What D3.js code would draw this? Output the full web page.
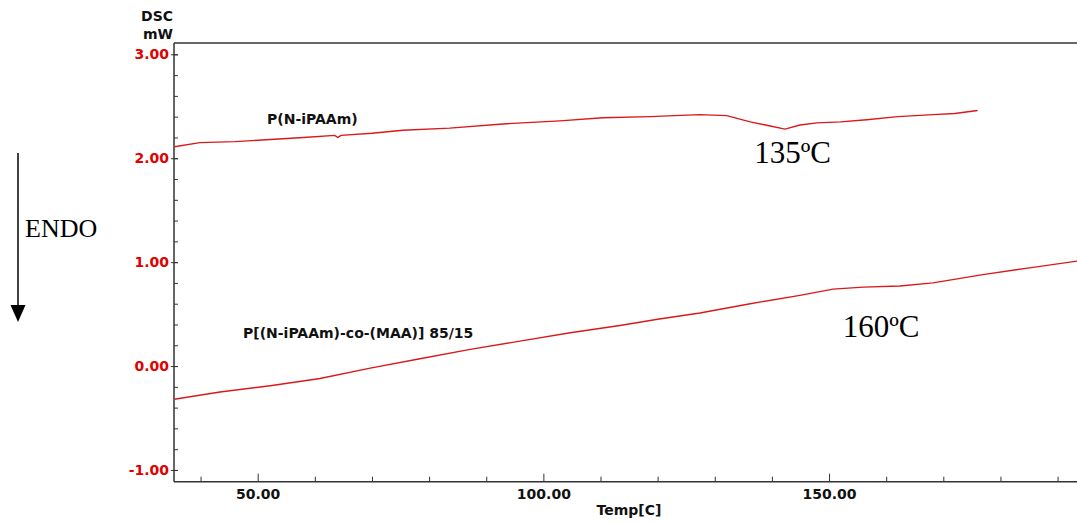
<!DOCTYPE html>
<html>
<head>
<meta charset="utf-8">
<script src="https://cdn.jsdelivr.net/npm/d3@7/dist/d3.min.js"></script>
<style>
  html, body { margin: 0; padding: 0; background: #fff; overflow: hidden; }
  svg { display: block; }
</style>
</head>
<body>
<svg id="chart" width="1077" height="523"></svg>
<script>
// ---- data ----
const yTickValues = [-1, 0, 1, 2, 3];
const yTickLabels = ["-1.00", "0.00", "1.00", "2.00", "3.00"];
const xTickValues = [50, 100, 150];
const xTickLabels = ["50.00", "100.00", "150.00"];

const seriesNames = ["P(N-iPAAm)", "P[(N-iPAAm)-co-(MAA)] 85/15"];

const tempA = [35.4, 39.9, 46, 52.2, 58, 63.5, 64.0, 64.6, 70, 75.4, 83.6, 92.9, 102.9, 110.4, 118.7, 127.4, 132.1, 136.2, 139.7, 142.3, 144.9, 147.9, 152, 156.6, 162, 168.2, 172, 176.0];
const dscA  = [2.11, 2.15, 2.16, 2.18, 2.20, 2.22, 2.20, 2.22, 2.24, 2.27, 2.29, 2.33, 2.36, 2.39, 2.40, 2.42, 2.41, 2.35, 2.31, 2.28, 2.32, 2.34, 2.35, 2.37, 2.40, 2.42, 2.43, 2.46];

const tempB = [35.4, 43.4, 52.2, 60.9, 69.7, 78.4, 87.2, 95.9, 104.7, 113.4, 120, 127.4, 136.2, 144.9, 150.7, 156, 162.4, 168.2, 176.9, 185.7, 193.4];
const dscB  = [-0.32, -0.25, -0.19, -0.12, -0.02, 0.07, 0.16, 0.24, 0.32, 0.39, 0.45, 0.51, 0.60, 0.68, 0.74, 0.76, 0.77, 0.80, 0.88, 0.95, 1.01];

const annotations = [
  { text: "135ºC", t: 136.9, v: 1.95 },
  { text: "160ºC", t: 152.4, v: 0.28 }
];

// ---- drawing ----
const svg = d3.select("#chart");
const redLine = "#d91a1a";
const redText = "#e00000";
const axisColor = "#333";

const x = d3.scaleLinear().domain([35.35, 193.4]).range([174, 1077]);
const y = d3.scaleLinear().domain([-1.113, 3.109]).range([481.7, 43]);

// frame
svg.append("line").attr("x1", 174).attr("x2", 1077).attr("y1", 43).attr("y2", 43)
  .attr("stroke", axisColor).attr("stroke-width", 1.5);

// y axis
const yMinor = d3.range(-1, 3.01, 0.2).map(v => +v.toFixed(2));
svg.append("g").attr("transform", "translate(174,0)")
  .call(d3.axisRight(y).tickValues(yMinor).tickSize(4).tickFormat(""))
  .call(g => g.select(".domain").remove())
  .call(g => g.selectAll("line").attr("stroke", axisColor));
const yAxis = svg.append("g").attr("transform", "translate(174,0)")
  .call(d3.axisLeft(y).tickValues(yTickValues).tickSize(3)
        .tickFormat((d, i) => yTickLabels[i]).tickPadding(2));
yAxis.select(".domain").remove();
yAxis.selectAll("line").attr("x2", -3).attr("x1", 4).attr("stroke", axisColor);
yAxis.selectAll("text").attr("fill", redText)
  .style("font-family", "DejaVu Sans").style("font-weight", "bold").style("font-size", "14px");
svg.append("line").attr("x1", 174).attr("x2", 174).attr("y1", 43).attr("y2", 481.7)
  .attr("stroke", axisColor).attr("stroke-width", 1.5);

// x axis
const xMinor = d3.range(40, 191, 10);
svg.append("g").attr("transform", "translate(0,481.7)")
  .call(d3.axisTop(x).tickValues(xMinor.filter(v => v % 50 !== 0)).tickSize(5).tickFormat(""))
  .call(g => g.select(".domain").remove())
  .call(g => g.selectAll("line").attr("stroke", axisColor));
const xAxis = svg.append("g").attr("transform", "translate(0,481.7)")
  .call(d3.axisBottom(x).tickValues(xTickValues).tickSize(0)
        .tickFormat((d, i) => xTickLabels[i]).tickPadding(7));
xAxis.select(".domain").remove();
xAxis.selectAll(".tick line").attr("y2", -8).attr("stroke", axisColor);
xAxis.selectAll("text").attr("fill", "#111")
  .style("font-family", "DejaVu Sans").style("font-weight", "bold").style("font-size", "14px");
svg.append("line").attr("x1", 174).attr("x2", 1077).attr("y1", 481.7).attr("y2", 481.7)
  .attr("stroke", axisColor).attr("stroke-width", 1.5);

// axis titles
const boldSans = sel => sel.style("font-family", "DejaVu Sans").style("font-weight", "bold")
  .style("font-size", "14px").attr("fill", "#111");
svg.append("text").attr("x", 173).attr("y", 20.5).attr("text-anchor", "end").text("DSC").call(boldSans);
svg.append("text").attr("x", 173).attr("y", 38.5).attr("text-anchor", "end").text("mW").call(boldSans);
svg.append("text").attr("x", 629).attr("y", 515).attr("text-anchor", "middle").text("Temp[C]").call(boldSans);

// curves
const line = d3.line().x(d => x(d[0])).y(d => y(d[1]));
svg.append("path").datum(tempA.map((t, i) => [t, dscA[i]]))
  .attr("d", line).attr("fill", "none").attr("stroke", redLine).attr("stroke-width", 1.4);
svg.append("path").datum(tempB.map((t, i) => [t, dscB[i]]))
  .attr("d", line).attr("fill", "none").attr("stroke", redLine).attr("stroke-width", 1.4);

// series labels
svg.append("text").attr("x", 267).attr("y", 124).text(seriesNames[0]).call(boldSans);
svg.append("text").attr("x", 243).attr("y", 338).text(seriesNames[1]).call(boldSans);

// temperature annotations
annotations.forEach(a => {
  svg.append("text").attr("x", x(a.t)).attr("y", y(a.v)).text(a.text)
    .style("font-family", "Liberation Serif").style("font-size", "31px").attr("fill", "#000");
});

// ENDO arrow
svg.append("line").attr("x1", 18).attr("x2", 18).attr("y1", 153).attr("y2", 306)
  .attr("stroke", "#000").attr("stroke-width", 1.5);
svg.append("path").attr("d", "M10.5,305 L25.5,305 L18,322 Z").attr("fill", "#000");
svg.append("text").attr("x", 25).attr("y", 237).text("ENDO")
  .style("font-family", "Liberation Serif").style("font-size", "26px").attr("fill", "#000");
</script>
</body>
</html>
